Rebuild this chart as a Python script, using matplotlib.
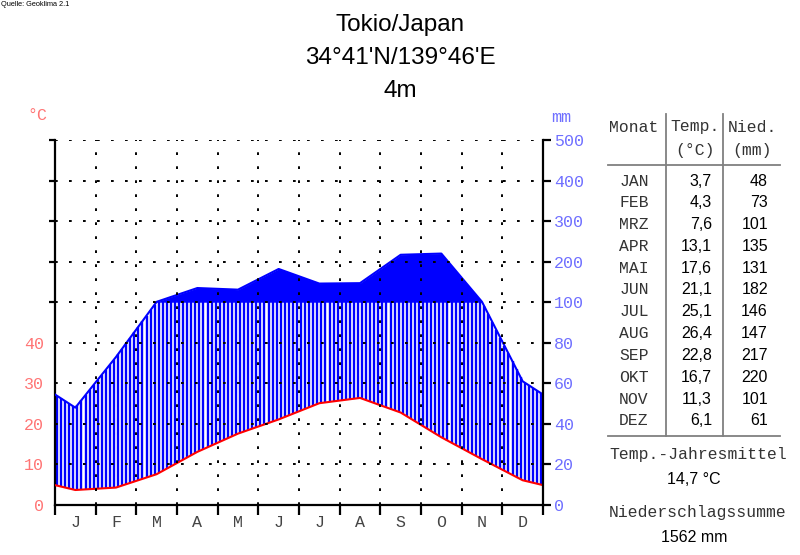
import numpy as np
import matplotlib

matplotlib.use("Agg")
import matplotlib.pyplot as plt
from matplotlib.lines import Line2D

# climate data, Tokio
months = ["J", "F", "M", "A", "M", "J", "J", "A", "S", "O", "N", "D"]
month_names = ["JAN", "FEB", "MRZ", "APR", "MAI", "JUN", "JUL", "AUG", "SEP", "OKT", "NOV", "DEZ"]
temps = [3.7, 4.3, 7.6, 13.1, 17.6, 21.1, 25.1, 26.4, 22.8, 16.7, 11.3, 6.1]
precip = [48, 73, 101, 135, 131, 182, 146, 147, 217, 220, 101, 61]
annual_mean = 14.7
title_lines = ["Tokio/Japan", "34°41'N/139°46'E", "4m"]
temp_ticks = [0, 10, 20, 30, 40]
precip_ticks = [0, 20, 40, 60, 80, 100, 200, 300, 400, 500]

MONO = "Liberation Mono"
SANS = "Liberation Sans"
RED = "#ff0000"
BLUE = "#0000ff"
LRED = "#ff7575"
LBLUE = "#6f6fff"


def scale_precip(p):
    # 20 mm = 10 degC up to 100 mm, above that 100 mm = 10 degC
    p = np.asarray(p, dtype=float)
    return np.where(p <= 100, p / 2.0, 50 + (p - 100) / 10.0)


# curve points at month centres, closed at both edges with Dec/Jan mean
t = np.array(temps)
p = np.array(precip, dtype=float)
xc = np.concatenate([[0], np.arange(12) + 0.5, [12]])
t_edge = (t[0] + t[-1]) / 2
p_edge = (p[0] + p[-1]) / 2
tc = np.concatenate([[t_edge], t, [t_edge]])
pc = scale_precip(np.concatenate([[p_edge], p, [p_edge]]))

fig = plt.figure(figsize=(8, 5.55), dpi=100)
ax = fig.add_axes([55 / 800, 50 / 555, 488 / 800, 365 / 555])
ax.set_xlim(0, 12)
ax.set_ylim(0, 90)

# humid period: vertical hatch lines
xs = np.arange(0.05, 12, 0.1)
lo = np.interp(xs, xc, tc)
hi = np.minimum(np.interp(xs, xc, pc), 50)
m = hi > lo
ax.vlines(xs[m], lo[m], hi[m], color=BLUE, linewidth=1.7, zorder=2)

# perhumid period (> 100 mm): solid fill
ax.fill_between(xc, 50, pc, where=pc > 50, interpolate=True,
                color=BLUE, linewidth=0, zorder=2)

ax.plot(xc, pc, color=BLUE, linewidth=1.5, zorder=3)
ax.plot(xc, tc, color=RED, linewidth=1.5, zorder=4)

# dotted grid
dots = (0, (1.4, 5.8))
for yv in range(10, 91, 10):
    ax.axhline(yv, color="black", linewidth=1.4, linestyle=dots, zorder=5)
for xv in range(1, 12):
    ax.axvline(xv, color="black", linewidth=1.4, linestyle=dots, zorder=5)

for s in ["top", "right"]:
    ax.spines[s].set_visible(False)
for s in ["left", "bottom"]:
    ax.spines[s].set_linewidth(1.6)

ax.set_xticks(range(13))
ax.set_xticklabels([])
ax.set_xticks(np.arange(12) + 0.5, minor=True)
ax.set_xticklabels(months, minor=True, fontfamily=MONO, fontsize=12, color="#444444")
ax.tick_params(axis="x", which="major", length=7, width=1.6, direction="out")
ax.tick_params(axis="x", which="minor", length=0, pad=7)

ax.set_yticks(temp_ticks)
ax.set_yticklabels([str(v) for v in temp_ticks], fontfamily=MONO, fontsize=12, color=LRED)
ax.set_yticks(range(50, 91, 10), minor=True)
ax.tick_params(axis="y", which="major", length=0, pad=8)
ax.tick_params(axis="y", which="minor", length=4, width=1.6)

ax2 = ax.twinx()
ax2.set_ylim(0, 90)
for s in ["top", "left", "bottom"]:
    ax2.spines[s].set_visible(False)
ax2.spines["right"].set_linewidth(1.6)
ax2.set_yticks(scale_precip(precip_ticks))
ax2.set_yticklabels([str(v) for v in precip_ticks], fontfamily=MONO, fontsize=12, color=LBLUE)
ax2.tick_params(axis="y", length=6, width=1.6, pad=2)

# unit labels
fig.text(37 / 800, 1 - 116 / 555, "°C", color=LRED, fontfamily=MONO, fontsize=12,
         ha="center", va="center")
fig.text(561 / 800, 1 - 117 / 555, "mm", color=LBLUE, fontfamily=MONO, fontsize=12,
         ha="center", va="center")

# title and source
for i, line in enumerate(title_lines):
    fig.text(400 / 800, 1 - (25 + i * 33) / 555, line, fontfamily=SANS, fontsize=17.5,
             ha="center", va="center")
fig.text(1 / 800, 1 - 5 / 555, "Quelle: Geoklima 2.1", fontfamily=SANS, fontsize=5.3,
         ha="left", va="center")


# table on the right
def fy(y):
    return 1 - y / 555


def fx(x):
    return x / 800


tcol = "#333333"
fig.text(fx(609), fy(127), "Monat", fontfamily=MONO, fontsize=11.8, color=tcol, ha="left", va="center")
fig.text(fx(695), fy(127), "Temp.", fontfamily=MONO, fontsize=11.8, color=tcol, ha="center", va="center")
fig.text(fx(752), fy(127), "Nied.", fontfamily=MONO, fontsize=11.8, color=tcol, ha="center", va="center")
fig.text(fx(695), fy(150), "(°C)", fontfamily=MONO, fontsize=11.8, color=tcol, ha="center", va="center")
fig.text(fx(752), fy(150), "(mm)", fontfamily=MONO, fontsize=11.8, color=tcol, ha="center", va="center")

lc = "#808080"
fig.add_artist(Line2D([fx(666), fx(666)], [fy(114), fy(436)], color=lc, linewidth=1.3))
fig.add_artist(Line2D([fx(723), fx(723)], [fy(114), fy(436)], color=lc, linewidth=1.3))
fig.add_artist(Line2D([fx(608), fx(780)], [fy(165), fy(165)], color=lc, linewidth=1.3))
fig.add_artist(Line2D([fx(608), fx(780)], [fy(436), fy(436)], color=lc, linewidth=1.3))

for i, (name, tv, pv) in enumerate(zip(month_names, temps, precip)):
    y = fy(181 + i * 21.8)
    fig.text(fx(634), y, name, fontfamily=MONO, fontsize=11.8, color=tcol, ha="center", va="center")
    fig.text(fx(712), y, f"{tv:.1f}".replace(".", ","), fontfamily=SANS, fontsize=11.5,
             ha="right", va="center")
    fig.text(fx(768), y, str(pv), fontfamily=SANS, fontsize=11.5, ha="right", va="center")

fig.text(fx(698), fy(455), "Temp.-Jahresmittel", fontfamily=MONO, fontsize=11.8, color=tcol,
         ha="center", va="center")
fig.text(fx(694), fy(480), f"{annual_mean:.1f} °C".replace(".", ","), fontfamily=SANS,
         fontsize=11.5, ha="center", va="center")
fig.text(fx(698), fy(512), "Niederschlagssumme", fontfamily=MONO, fontsize=11.8, color=tcol,
         ha="center", va="center")
fig.text(fx(694), fy(537), f"{sum(precip)} mm", fontfamily=SANS, fontsize=11.5,
         ha="center", va="center")

fig.savefig("out.png", dpi=100)
